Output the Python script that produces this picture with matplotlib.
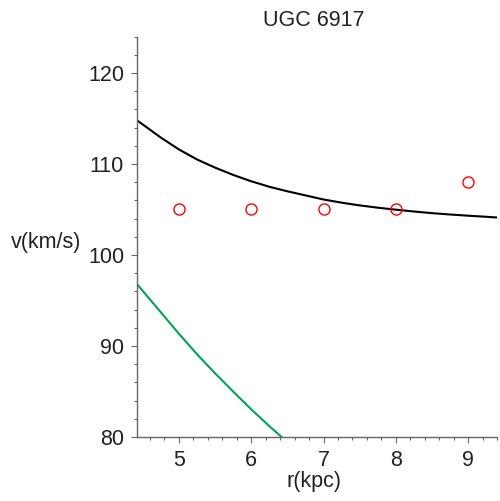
import matplotlib
matplotlib.use('Agg')
import matplotlib.pyplot as plt
from matplotlib.ticker import MultipleLocator

plt.rcParams['font.family'] = ['Liberation Sans', 'DejaVu Sans']

# observed rotation curve
r_obs = [5, 6, 7, 8, 9]
v_obs = [105, 105, 105, 105, 108]

# model curve (black)
r_model = [4.42, 4.75, 5.0, 5.25, 5.5, 5.75, 6.0, 6.25, 6.5, 6.75, 7.0,
           7.25, 7.5, 7.75, 8.0, 8.25, 8.5, 8.75, 9.0, 9.25, 9.4]
v_model = [114.8, 112.9, 111.6, 110.5, 109.6, 108.8, 108.1, 107.5, 107.0,
           106.55, 106.1, 105.75, 105.45, 105.2, 104.98, 104.78, 104.6,
           104.45, 104.32, 104.2, 104.12]

# second component (green)
r_comp = [4.42, 4.75, 5.0, 5.25, 5.5, 5.75, 6.0, 6.25, 6.5]
v_comp = [96.8, 93.7, 91.35, 89.1, 87.0, 85.0, 83.05, 81.2, 79.45]

fig = plt.figure(figsize=(5, 5.01), dpi=100)
ax = fig.add_axes([0.274, 0.1277, 0.72, 0.7993])

ax.plot(r_model, v_model, color='black', lw=1.5)
ax.plot(r_comp, v_comp, color='#00a651', lw=1.5)
ax.plot(r_obs, v_obs, 'o', mfc='none', mec='red', mew=1.0, ms=8)

ax.set_xlim(4.42, 9.4)
ax.set_ylim(80, 124)

for s in ['top', 'right']:
    ax.spines[s].set_visible(False)
for s in ['left', 'bottom']:
    ax.spines[s].set_color('#666666')
    ax.spines[s].set_linewidth(1.0)

ax.xaxis.set_major_locator(MultipleLocator(1))
ax.xaxis.set_minor_locator(MultipleLocator(0.2))
ax.yaxis.set_major_locator(MultipleLocator(10))
ax.yaxis.set_minor_locator(MultipleLocator(2))
ax.tick_params(which='major', length=4.3, width=0.8, color='#666666',
               labelsize=15.5, labelcolor='#222222', pad=5)
ax.tick_params(which='minor', length=2.5, width=0.8, color='#666666')

ax.set_xlabel('r(kpc)', fontsize=15.5, color='#222222', va='center')
ax.xaxis.set_label_coords(0.493, -0.112)
ax.set_ylabel('v(km/s)', fontsize=15.5, color='#222222', rotation=0,
              ha='center', va='center')
ax.yaxis.set_label_coords(-0.253, 0.487)

ax.text(0.49, 1.04, 'UGC 6917', transform=ax.transAxes, ha='center',
        va='center', fontsize=15.5, color='#222222')

fig.savefig('out.png', dpi=100)
